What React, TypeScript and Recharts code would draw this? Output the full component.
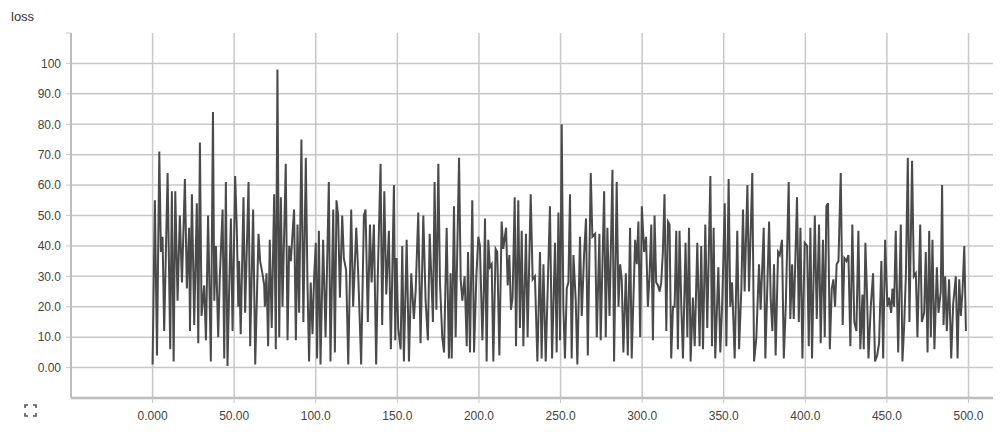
import React from "react";
import { LineChart, Line, XAxis, YAxis, CartesianGrid } from "recharts";

const chartTitle = "loss";

const xTicks = [0, 50, 100, 150, 200, 250, 300, 350, 400, 450, 500];
const xTickLabels = ["0.000", "50.00", "100.0", "150.0", "200.0", "250.0", "300.0", "350.0", "400.0", "450.0", "500.0"];
const yTicks = [0, 10, 20, 30, 40, 50, 60, 70, 80, 90, 100, 110];
const yTickLabels = ["0.00", "10.0", "20.0", "30.0", "40.0", "50.0", "60.0", "70.0", "80.0", "90.0", "100", ""];
const yGridValues = [0, 10, 20, 30, 40, 50, 60, 70, 80, 90, 100];

// [step, loss]
const lossPart1: [number, number][] = [
  [0, 1], [1.4, 55], [2.7, 4], [4.1, 71], [5.1, 38], [6.1, 43], [7.1, 12], [9.2, 64], [10.8, 6], [11.8, 58],
  [12.9, 2], [13.9, 58], [15.3, 22], [16.7, 50], [18, 28], [19.8, 62], [21, 26], [22.4, 46], [22.9, 12], [24.1, 57],
  [25.5, 14], [27.1, 54], [28, 8], [29, 74], [30, 17], [31.6, 27], [32.7, 9], [34, 50], [35.7, 2], [37, 84],
  [37.8, 22], [38.8, 40], [40.2, 10], [41.2, 30], [42.9, 52], [43.9, 3], [44.9, 61], [45.9, 0.5], [46.9, 25], [48, 49],
  [49, 12], [50.6, 63], [51.6, 46], [52.5, 20], [53, 35], [54, 11], [55.7, 56], [56.7, 18], [58.8, 61], [59.8, 7],
  [61.6, 52], [62.9, 1], [64.9, 44], [65.9, 35], [67.3, 31], [68.4, 27], [68.8, 20], [69.8, 31], [70.8, 7], [71.8, 42],
  [73, 13], [74.5, 57], [75.5, 6], [76.5, 98], [77.6, 10], [78.6, 56], [79.6, 20], [81.6, 67], [82.7, 9], [83.7, 40],
  [84.7, 35], [86.7, 52], [87.8, 9], [88.8, 47], [89.8, 18], [91.2, 75], [92.4, 15], [93.9, 69], [94.9, 28], [95.9, 2],
  [96.9, 28], [98, 11], [99, 30], [100, 41],
];

const lossPart2: [number, number][] = [
  [100.8, 3], [101.9, 45], [102.9, 1], [104.5, 42], [106, 10], [108, 61], [109, 2], [110.7, 52], [111.7, 5], [112.7, 55],
  [113.7, 50], [114.8, 23], [116.2, 50], [117.2, 36], [118.6, 32], [119.9, 1], [121.7, 52], [122.9, 20], [124.8, 46], [126, 31],
  [127.8, 1], [129.5, 50], [130.5, 52], [131.9, 15], [133.2, 47], [134.2, 28], [135.6, 47], [137, 1], [138, 30], [139.7, 67],
  [140.7, 14], [142, 58], [143.2, 24], [144.8, 45], [146, 6], [147.9, 60], [148.7, 9], [149.5, 36], [150.5, 13], [152, 6],
  [153, 40], [154, 2], [155.7, 42], [157.1, 2], [158.5, 31], [160.1, 16], [161.2, 25], [162.8, 51], [164.2, 8], [165.9, 50],
  [167.3, 22], [168.7, 9], [169.8, 44], [170.8, 30], [171.8, 15], [172.8, 61], [173.9, 19], [175.1, 67], [176.1, 28], [177.5, 10],
  [178.6, 5], [180.2, 46], [181.6, 3], [182.6, 31], [183.3, 3], [184.7, 53], [185.7, 10], [187.8, 69], [188.8, 29], [189.8, 22],
  [191.2, 30], [192.5, 7], [193.3, 38], [194.5, 5], [195.9, 55], [197, 5], [198.4, 30], [199.6, 43], [200.6, 40], [202.1, 9],
];

const lossPart3: [number, number][] = [
  [203, 26], [203.7, 49], [204.7, 2], [205.7, 42], [206.7, 33], [207.8, 34], [208.8, 2], [210.2, 39], [211.2, 38], [212.5, 4],
  [213.9, 48], [214.9, 39], [216.6, 46], [217.6, 27], [218.6, 37], [219.6, 19], [220.6, 23], [221.9, 56], [222.7, 7], [224.1, 55],
  [225.1, 13], [226.2, 45], [227.2, 7], [228.8, 44], [229.8, 10], [231.7, 57], [232.9, 29], [234.3, 30], [235.8, 2], [237.4, 38],
  [238.4, 3], [239.5, 34], [240.9, 2], [243.5, 53], [244.8, 3], [246.6, 41], [247.6, 5], [248.7, 51], [249.7, 9], [250.7, 80],
  [251.7, 20], [252.7, 3], [253.8, 26], [254.8, 28], [255.8, 57], [256.8, 3], [257.9, 37], [259.3, 22], [260.3, 1], [261.9, 43],
  [263, 17], [264.4, 37], [265.6, 49], [266.7, 4], [268.5, 64], [269.5, 43], [271.2, 44], [272.2, 10], [273.8, 44], [274.6, 9],
  [276.7, 58], [277.7, 10], [278.7, 46], [280, 17], [281.8, 65], [282.8, 2], [284.4, 61], [285.5, 20], [286.5, 34], [287.5, 29],
  [288.5, 5], [290, 31], [291.2, 4], [292.6, 46], [293.6, 3], [295.7, 42], [296.7, 34], [297.7, 48], [298.8, 10], [299.8, 53],
  [301.2, 38], [302.4, 43], [303.5, 20], [304.5, 30],
];

const lossPart4: [number, number][] = [
  [305.6, 47], [306.6, 9], [307.6, 50], [308.6, 28], [309.7, 27], [310.7, 25], [311.7, 28], [312.7, 38], [313.7, 57], [314.8, 12],
  [315.8, 48], [316.8, 47], [317.8, 3], [318.9, 20], [319.9, 20], [320.9, 45], [321.9, 6], [322.9, 45], [324, 20], [325, 3],
  [326.6, 41], [327.7, 10], [328.7, 46], [329.7, 2], [331.1, 23], [332.2, 7], [333.8, 41], [335.2, 7], [336.2, 40], [337.3, 6],
  [338.7, 47], [339.9, 13], [341.8, 63], [342.8, 7], [343.8, 46], [344.8, 3], [346.7, 33], [347.9, 5], [349.1, 22], [350.6, 54],
  [351.6, 7], [353, 62], [354, 20], [355.1, 28], [356.7, 3], [358.3, 45], [359.4, 6], [360.8, 26], [361.8, 52], [362.8, 25],
  [364.5, 60], [365.5, 25], [367.5, 64], [368.6, 2], [370, 10], [371.6, 34], [372.6, 19], [374.5, 46], [375.5, 3], [377.8, 48],
  [378.8, 22], [379.8, 12], [380.8, 34], [381.8, 4], [383.3, 38], [384.3, 37], [385.7, 42], [386.8, 3], [388, 20], [389.8, 61],
  [390.8, 16], [391.9, 34], [392.9, 16], [394.9, 56], [396, 15], [397, 46], [398.2, 3], [399.6, 41], [401.1, 40], [402.1, 7],
  [403.1, 46], [404.1, 3], [405.8, 50],
];

const lossPart5: [number, number][] = [
  [407, 16], [408.4, 47], [409.4, 8], [410.8, 42], [411.9, 10], [412.9, 53], [413.9, 54], [415, 6], [416.2, 26], [417.2, 29],
  [418.2, 20], [419.2, 34], [420.3, 35], [421.7, 64], [422.9, 14], [423.9, 36], [425.2, 35], [426.4, 37], [427.6, 7], [428.8, 47],
  [430, 15], [431.3, 12], [432.5, 45], [433.7, 6], [435, 24], [435.8, 6], [436.8, 41], [437.8, 24], [438.7, 3], [440.1, 20],
  [441.5, 31], [442.7, 2], [444, 4], [445.2, 8], [446.6, 35], [447.7, 3], [448.9, 42], [450.3, 20], [451.3, 23], [452.6, 18],
  [453.4, 26], [454.4, 20], [455.4, 45], [456.9, 5], [458.5, 47], [459.5, 2], [460.5, 13], [461.6, 30], [462.8, 69], [463.8, 15],
  [465.4, 68], [466.5, 30], [467.7, 31], [468.7, 10], [470.4, 47], [471.4, 15], [472.8, 18], [473.8, 38], [474.9, 5], [475.9, 45],
  [476.9, 10], [477.9, 42], [479.1, 6], [480.6, 33], [481.6, 18], [483, 25], [483.8, 60], [484.7, 14], [485.7, 30], [486.7, 12],
  [488.1, 29], [489.4, 3], [490.6, 21], [492.2, 30], [493.3, 3], [494.3, 29], [495.3, 17], [496.3, 25], [497.4, 40], [498.4, 12],
];

const data = [...lossPart1, ...lossPart2, ...lossPart3, ...lossPart4, ...lossPart5].map(([step, loss]) => ({ step, loss }));

const FONT = "'Liberation Sans', Arial, Helvetica, sans-serif";

export default function App() {
  return (
    <div style={{ position: "absolute", left: 0, top: 0, width: 1000, height: 432, background: "#fff", fontFamily: FONT }}>
      <div style={{ position: "absolute", left: 11, top: 9, fontSize: 13, color: "#333" }}>{chartTitle}</div>
      <svg style={{ position: "absolute", left: 24, top: 404 }} width={13} height={13}>
        <path d="M1 4 V1 H4 M9 1 H12 V4 M12 9 V12 H9 M4 12 H1 V9" stroke="#555" strokeWidth={1.6} fill="none" />
      </svg>
      <LineChart width={1000} height={432} data={data} margin={{ top: 33, right: 7, bottom: 0, left: 0 }}>
        <CartesianGrid
          stroke="#c8c8c8"
          strokeWidth={1.5}
          horizontalValues={yGridValues}
          verticalValues={xTicks}
        />
        <XAxis
          type="number"
          dataKey="step"
          domain={[-50, 515]}
          ticks={xTicks}
          allowDataOverflow
          tickFormatter={(v: number) => xTickLabels[xTicks.indexOf(v)] ?? ""}
          axisLine={{ stroke: "#bdbdbd", strokeWidth: 2.5 }}
          tickLine={{ stroke: "#c8c8c8" }}
          tickSize={5}
          tickMargin={8}
          tick={{ fill: "#444", fontSize: 12, fontFamily: FONT }}
          height={34}
        />
        <YAxis
          type="number"
          domain={[-10, 110]}
          ticks={yTicks}
          allowDataOverflow
          tickFormatter={(v: number) => yTickLabels[yTicks.indexOf(v)] ?? ""}
          axisLine={{ stroke: "#bdbdbd", strokeWidth: 2 }}
          tickLine={{ stroke: "#c8c8c8" }}
          tickSize={5}
          tickMargin={5}
          tick={{ fill: "#444", fontSize: 12, fontFamily: FONT }}
          width={71}
        />
        <Line
          type="linear"
          dataKey="loss"
          stroke="#4a4a4a"
          strokeWidth={2}
          dot={false}
          isAnimationActive={false}
        />
      </LineChart>
    </div>
  );
}
